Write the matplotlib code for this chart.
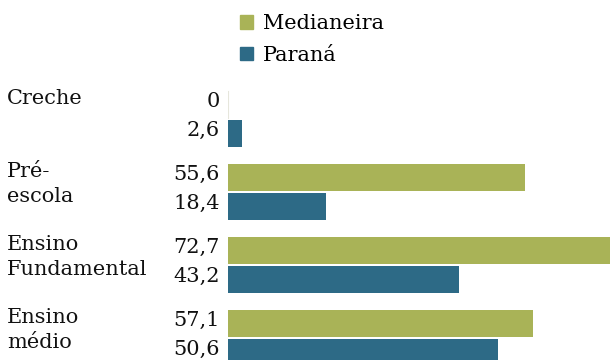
import matplotlib.pyplot as plt
import matplotlib.transforms as mtransforms
from matplotlib.patches import Patch

categories = ["Creche", "Pré-\nescola", "Ensino\nFundamental", "Ensino\nmédio"]
medianeira = [0, 55.6, 72.7, 57.1]
parana = [2.6, 18.4, 43.2, 50.6]
series_names = ["Medianeira", "Paraná"]

green = "#A9B357"
blue = "#2D6A86"

plt.rcParams['font.family'] = ['DejaVu Serif']
plt.rcParams['font.size'] = 15

fig = plt.figure(figsize=(6.1, 3.6), dpi=100)
ax = fig.add_axes([228 / 610, 0, 1 - 228 / 610, 1])

ypos = list(range(len(categories)))
off = 0.199
h = 0.37
ax.barh([y - off for y in ypos], medianeira, height=h, color=green, linewidth=0)
ax.barh([y + off for y in ypos], parana, height=h, color=blue, linewidth=0)
# hairline marking the zero-length bar
for y, v in zip(ypos, medianeira):
    if v == 0:
        ax.plot([0, 0], [y - off - h / 2, y - off + h / 2], color="#e6e6dc", lw=0.8)

ax.set_xlim(0, 71.5)
ax.set_ylim(3.305, -1.627)
ax.axis("off")

def fmt(v):
    return f"{v:g}".replace(".", ",")

for y, a, b in zip(ypos, medianeira, parana):
    ax.annotate(fmt(a), xy=(0, y - off), xytext=(-8, 3), textcoords="offset pixels",
                ha="right", va="center", color="#111111")
    ax.annotate(fmt(b), xy=(0, y + off), xytext=(-8, 3), textcoords="offset pixels",
                ha="right", va="center", color="#111111")

trans = mtransforms.blended_transform_factory(fig.transFigure, ax.transData)
for y, c in zip(ypos, categories):
    fig.text(7 / 610, y - off - h / 2 - 0.02, c, transform=trans, ha="left", va="top",
             linespacing=1.38, color="#111111")

handles = [Patch(color=green), Patch(color=blue)]
fig.legend(handles, series_names, loc="upper left", bbox_to_anchor=(232 / 610, 1 - 6 / 360),
           frameon=False, handlelength=0.6, handleheight=0.6, handletextpad=0.5,
           labelspacing=0.6, borderaxespad=0)

fig.savefig("out.png", dpi=100)
